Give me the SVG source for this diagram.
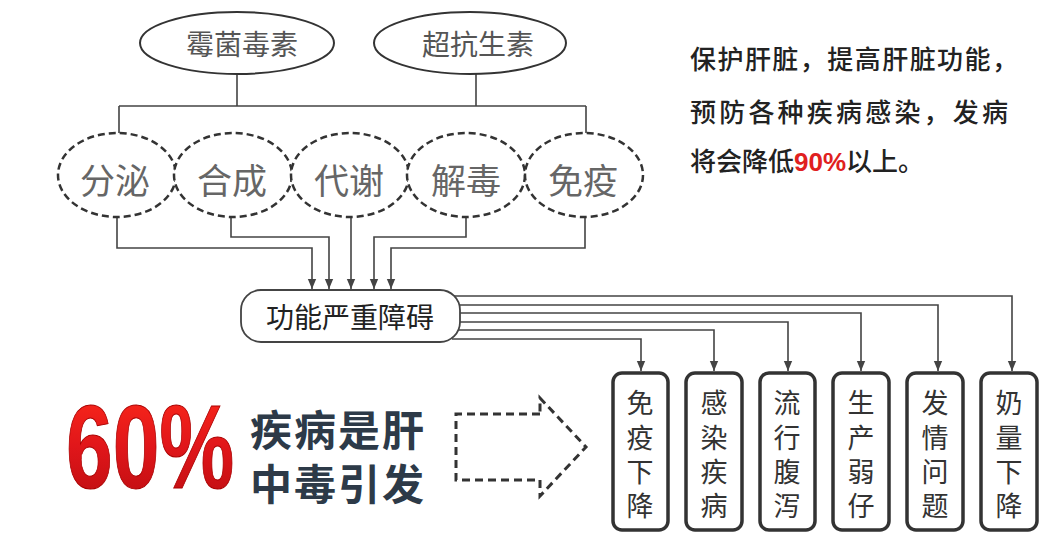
<svg xmlns="http://www.w3.org/2000/svg" width="1062" height="538" viewBox="0 0 1062 538">
<style>
.top{fill:#fff;stroke:#333;stroke-width:2}
.dash{fill:#fff;stroke:#333;stroke-width:2.5;stroke-dasharray:7 4}
.t1{font-family:"Noto Sans CJK SC",sans-serif;font-size:28px;fill:#555;text-anchor:middle;dominant-baseline:central}
.t2{font-family:"Noto Sans CJK SC",sans-serif;font-size:35px;fill:#666;text-anchor:middle;dominant-baseline:central}
.t3{font-family:"Noto Sans CJK SC",sans-serif;font-size:28px;fill:#222;text-anchor:middle;dominant-baseline:central}
.t4{font-family:"Liberation Sans","Noto Sans CJK SC",sans-serif;font-size:27px;fill:#333;text-anchor:middle}
.rt{font-family:"Noto Sans CJK SC",sans-serif;font-size:26px;font-weight:500;fill:#222}
.big{font-family:"Liberation Sans","Noto Sans CJK SC",sans-serif;font-size:42px;font-weight:bold;fill:#2d3a48}
.bx{fill:#fff;stroke:#333;stroke-width:3.5}
.conn{fill:none;stroke:#444;stroke-width:1.6}
</style>
<defs>
<marker id="ad" markerUnits="userSpaceOnUse" markerWidth="10" markerHeight="12" refX="12" refY="5" orient="auto" viewBox="0 0 12 10">
<path d="M0,0 L12,5 L0,10 Z" fill="#444"/>
</marker>
<linearGradient id="red" x1="0" y1="0" x2="0" y2="1">
<stop offset="0" stop-color="#ff2a1a"/>
<stop offset="0.5" stop-color="#e0161a"/>
<stop offset="1" stop-color="#b80c10"/>
</linearGradient>
</defs>
<rect width="1062" height="538" fill="#fff"/>

<g id="connectors">
<path class="conn" d="M237,74 V106 M476,74 V106 M119,106 H586 M119,106 V133 M586,106 V133"/>
<path class="conn" d="M117,217 V248 H312 V289" marker-end="url(#ad)"/>
<path class="conn" d="M231,217 V237 H329 V289" marker-end="url(#ad)"/>
<path class="conn" d="M351,217 V289" marker-end="url(#ad)"/>
<path class="conn" d="M466,217 V237 H374 V289" marker-end="url(#ad)"/>
<path class="conn" d="M585,217 V248 H391 V289" marker-end="url(#ad)"/>
<path class="conn" d="M452,296 H1012 V371" marker-end="url(#ad)"/>
<path class="conn" d="M459,305 H938 V371" marker-end="url(#ad)"/>
<path class="conn" d="M460,313 H861 V371" marker-end="url(#ad)"/>
<path class="conn" d="M460,322 H788 V371" marker-end="url(#ad)"/>
<path class="conn" d="M459,330 H714 V371" marker-end="url(#ad)"/>
<path class="conn" d="M452,339 H641 V371" marker-end="url(#ad)"/>
</g>

<g id="n-meijun"><ellipse class="top" cx="237" cy="43" rx="97" ry="31"/><text class="t1" x="242" y="43">霉菌毒素</text></g>
<g id="n-chaokang"><ellipse class="top" cx="470" cy="43" rx="96" ry="31"/><text class="t1" x="478" y="43">超抗生素</text></g>

<g id="n-fenmi"><ellipse class="dash" cx="117" cy="175" rx="59" ry="42"/><text class="t2" x="115" y="178">分泌</text></g>
<g id="n-hecheng"><ellipse class="dash" cx="233" cy="175" rx="59" ry="42"/><text class="t2" x="232" y="178">合成</text></g>
<g id="n-daixie"><ellipse class="dash" cx="350" cy="175" rx="59" ry="42"/><text class="t2" x="349" y="178">代谢</text></g>
<g id="n-jiedu"><ellipse class="dash" cx="466" cy="175" rx="59" ry="42"/><text class="t2" x="466" y="178">解毒</text></g>
<g id="n-mianyi"><ellipse class="dash" cx="584" cy="175" rx="59" ry="42"/><text class="t2" x="583" y="178">免疫</text></g>

<g id="n-gongneng"><rect x="241" y="290" width="219" height="52" rx="20" fill="#fff" stroke="#444" stroke-width="1.8"/><text class="t3" x="350" y="316">功能严重障碍</text></g>

<g id="n-b1"><rect class="bx" x="613" y="373" width="55" height="157" rx="9"/>
<text class="t4"><tspan x="640" y="413">免</tspan><tspan x="640" y="448">疫</tspan><tspan x="640" y="482">下</tspan><tspan x="640" y="516">降</tspan></text></g>
<g id="n-b2"><rect class="bx" x="686" y="373" width="56" height="157" rx="9"/>
<text class="t4"><tspan x="714" y="413">感</tspan><tspan x="714" y="448">染</tspan><tspan x="714" y="482">疾</tspan><tspan x="714" y="516">病</tspan></text></g>
<g id="n-b3"><rect class="bx" x="760" y="373" width="55" height="157" rx="9"/>
<text class="t4"><tspan x="787" y="413">流</tspan><tspan x="787" y="448">行</tspan><tspan x="787" y="482">腹</tspan><tspan x="787" y="516">泻</tspan></text></g>
<g id="n-b4"><rect class="bx" x="833" y="373" width="56" height="157" rx="9"/>
<text class="t4"><tspan x="861" y="413">生</tspan><tspan x="861" y="448">产</tspan><tspan x="861" y="482">弱</tspan><tspan x="861" y="516">仔</tspan></text></g>
<g id="n-b5"><rect class="bx" x="907" y="373" width="56" height="157" rx="9"/>
<text class="t4"><tspan x="935" y="413">发</tspan><tspan x="935" y="448">情</tspan><tspan x="935" y="482">问</tspan><tspan x="935" y="516">题</tspan></text></g>
<g id="n-b6"><rect class="bx" x="981" y="373" width="56" height="157" rx="9"/>
<text class="t4"><tspan x="1009" y="413">奶</tspan><tspan x="1009" y="448">量</tspan><tspan x="1009" y="482">下</tspan><tspan x="1009" y="516">降</tspan></text></g>

<g id="note">
<text class="rt" x="690" y="69" textLength="328" lengthAdjust="spacing">保护肝脏，提高肝脏功能，</text>
<text class="rt" x="690" y="122" textLength="318" lengthAdjust="spacing">预防各种疾病感染，发病</text>
<text class="rt" x="690" y="171">将会降低<tspan fill="#e02020" font-weight="bold" font-family="Liberation Sans, sans-serif">90%</tspan>以上。</text>
</g>

<g id="headline">
<text transform="translate(66,488) scale(0.712,1)" x="0" y="0" font-family="Liberation Sans, Arial, sans-serif" font-weight="bold" font-size="118" fill="url(#red)" stroke="#a00" stroke-width="1">60%</text>
<text class="big"><tspan x="250" y="446" letter-spacing="2">疾病是肝</tspan><tspan x="250" y="500" letter-spacing="2">中毒引发</tspan></text>
<path d="M540,414 H456 V480 H540 V496 L586,447 L540,398 Z" fill="none" stroke="#333" stroke-width="3" stroke-dasharray="8 5"/>
</g>
</svg>
